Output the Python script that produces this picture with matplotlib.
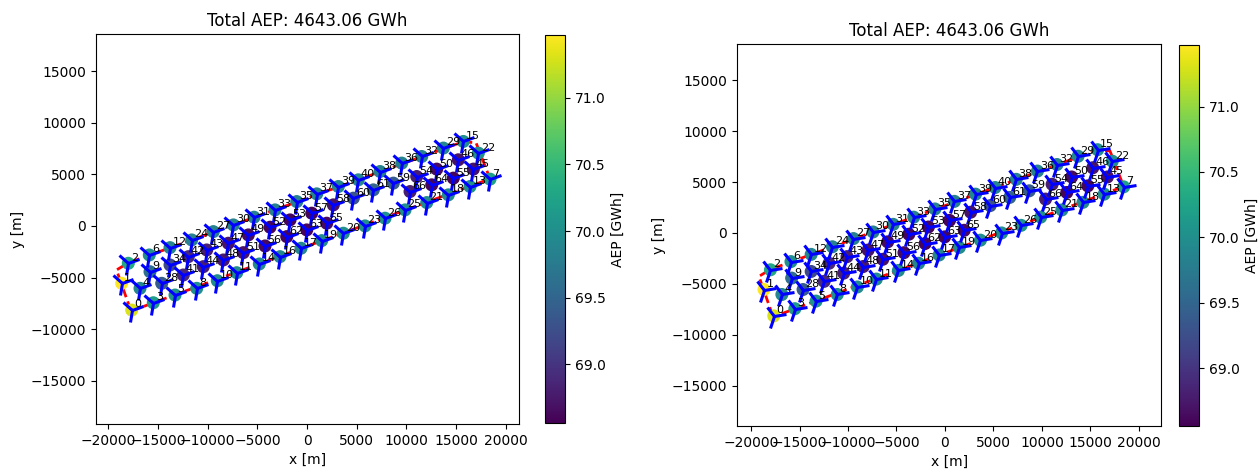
import numpy as np
import matplotlib.pyplot as plt
from matplotlib.markers import MarkerStyle
from matplotlib.transforms import Affine2D

# turbine positions [m], index = turbine number
x = [-17654, -18661, -17996, -15478, -16818, -13293, -15881, 18429, -11108, -15811,
     -9033, -7080, -13797, 16415, -4804, 15740, -2719, -604, 14230, 1480,
     3656, 12054, 17251, 5841, -11611, 9869, 7855, -9436, -14633, 13726,
     -7422, -5337, 11551, -3223, -13797, -1037, 9537, 977, 7351, 3152,
     5166, -12457, -11954, -10101, -10443, 16747, 15237, -7925, -8429, -5911,
     13061, -6415, -3726, -1712, 11047, 14733, -4230, 473, 2649, 8691,
     4663, 6677, -2044, -30, 12558, 1984, 10373]
y = [-8155, -5563, -3621, -7447, -6049, -6699, -2816, 4534, -6049, -4437,
     -5311, -4534, -2107, 3816, -3689, 8184, -2981, -2165, 3010, -1427,
     -709, 2262, 7058, 0, -1359, 1553, 748, -553, -5563, 7544,
     97, 845, 6728, 1553, -3786, 2359, 6087, 3107, 5272, 3816,
     4466, -4757, -2981, -2330, -3951, 5505, 6408, -1680, -3301, -874,
     5505, -2592, -126, 583, 4786, 4631, -1942, 1233, 2039, 4146,
     2689, 3495, -1039, -388, 3981, 262, 3330]
aep = [71.30, 71.47, 70.30, 70.15, 69.90, 70.05, 70.00, 70.20, 70.00, 69.60,
       69.95, 69.95, 69.90, 70.00, 69.95, 70.00, 69.90, 69.90, 69.95, 69.95,
       70.00, 69.95, 70.00, 70.00, 69.85, 70.00, 70.05, 69.85, 69.40, 69.90,
       69.85, 69.85, 69.85, 69.85, 69.20, 69.85, 69.85, 69.85, 69.85, 69.90,
       69.90, 68.90, 68.90, 68.80, 68.80, 68.70, 68.70, 68.70, 68.75, 68.65,
       68.65, 68.70, 68.60, 68.60, 68.80, 68.60, 68.65, 68.60, 68.70, 69.40,
       69.30, 69.50, 68.60, 68.60, 68.60, 68.65, 68.80]
total_aep = 4643.06

# site boundary
bx = [-17724, -19184, -18026, 15710, 17019, 18429]
by = [-8252, -4272, -3592, 8155, 8058, 4563]

# rotor orientation of the turbine glyph [deg]
rot_left = [-10] * 67
rot_right = [-20] * 67

fig = plt.figure(figsize=(12.58, 4.69), dpi=100)


def draw(ax_rect, cax_rect, rot, xlim, ylim):
    ax = fig.add_axes(ax_rect)
    cax = fig.add_axes(cax_rect)
    ax.plot(bx + [bx[0]], by + [by[0]], 'r--', lw=2, zorder=1)
    sc = ax.scatter(x, y, c=aep, cmap='viridis', s=70, zorder=2,
                    vmin=68.56, vmax=71.47)
    for i in range(len(x)):
        m = MarkerStyle('1', transform=Affine2D().rotate_deg(rot[i]))
        ax.plot(x[i], y[i], marker=m, color='b', ms=18, mew=2.2, zorder=3)
        ax.text(x[i] + 250, y[i] + 250, str(i), fontsize=8, zorder=4)
    ax.set_xlim(xlim)
    ax.set_ylim(ylim)
    ax.set_xlabel('x [m]')
    ax.set_ylabel('y [m]')
    ax.set_title('Total AEP: %.2f GWh' % total_aep)
    cb = fig.colorbar(sc, cax=cax)
    cb.set_label('AEP [GWh]')
    return ax


draw([0.0763, 0.0959, 0.3363, 0.8316], [0.4332, 0.0980, 0.0159, 0.8274],
     rot_left, (-21250, 21350), (-19200, 18600))
draw([0.5859, 0.0917, 0.3371, 0.8145], [0.9372, 0.0917, 0.0159, 0.8124],
     rot_right, (-21440, 22290), (-18980, 18580))

plt.savefig('out.png', dpi=100)
